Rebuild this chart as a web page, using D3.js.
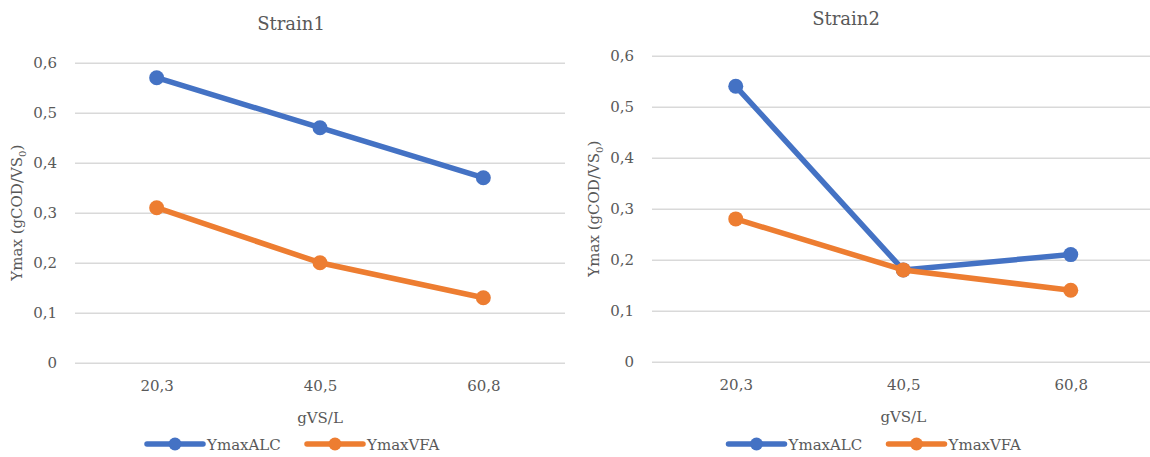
<!DOCTYPE html>
<html>
<head>
<meta charset="utf-8">
<script src="https://cdn.jsdelivr.net/npm/d3@7"></script>
<style>
  html, body { margin: 0; padding: 0; background: #fff; }
  svg { display: block; }
  text { font-family: "DejaVu Serif", "Liberation Serif", serif; fill: #595959; }
</style>
</head>
<body>
<svg id="chart" width="1150" height="457"></svg>
<script>
// Loading (gVS/L) on the x axis
const categories = ["20,3", "40,5", "60,8"];
const yTicks = [0, 0.1, 0.2, 0.3, 0.4, 0.5, 0.6];
const seriesNames = ["YmaxALC", "YmaxVFA"];
const seriesColors = ["#4472C4", "#ED7D31"];

// Strain 1 yields
const strain1ALC = [0.57, 0.47, 0.37];
const strain1VFA = [0.31, 0.20, 0.13];
// Strain 2 yields
const strain2ALC = [0.54, 0.18, 0.21];
const strain2VFA = [0.28, 0.18, 0.14];

const panels = [
  { title: "Strain1", series: [strain1ALC, strain1VFA],
    plot: { x0: 75, x1: 565, yTop: 62.7, yBot: 362.7 },
    titleX: 291, titleY: 30, yTitleX: 22, legendX: 147 },
  { title: "Strain2", series: [strain2ALC, strain2VFA],
    plot: { x0: 652, x1: 1154.5, yTop: 55.7, yBot: 361.7 },
    titleX: 846, titleY: 25, yTitleX: 599, legendX: 728.5 }
];

const svg = d3.select("#chart");
const fmt = d => d === 0 ? "0" : d3.format(".1f")(d).replace(".", ",");

panels.forEach(p => {
  const g = svg.append("g");
  const x = d3.scalePoint().domain(categories).range([p.plot.x0, p.plot.x1]).padding(0.5);
  const y = d3.scaleLinear().domain([0, 0.6]).range([p.plot.yBot, p.plot.yTop]);

  // gridlines + y tick labels
  const yAxis = d3.axisLeft(y).tickValues(yTicks).tickFormat(fmt)
    .tickSize(-(p.plot.x1 - p.plot.x0)).tickPadding(18);
  const ya = g.append("g").attr("transform", `translate(${p.plot.x0},0)`).call(yAxis);
  ya.select(".domain").remove();
  ya.selectAll(".tick line").attr("stroke", "#D9D9D9").attr("stroke-width", 1.5);
  ya.selectAll(".tick text").style("font-size", "15px").attr("fill", "#595959");

  // x tick labels
  const xAxis = d3.axisBottom(x).tickSize(0).tickPadding(18);
  const xa = g.append("g").attr("transform", `translate(0,${p.plot.yBot})`).call(xAxis);
  xa.select(".domain").remove();
  xa.selectAll(".tick text").style("font-size", "15px").attr("fill", "#595959");

  // title
  g.append("text").attr("x", p.titleX).attr("y", p.titleY)
    .attr("text-anchor", "middle").style("font-size", "18px").text(p.title);

  // axis titles
  g.append("text").attr("x", (p.plot.x0 + p.plot.x1) / 2).attr("y", p.plot.yBot + 60)
    .attr("text-anchor", "middle").style("font-size", "15px").text("gVS/L");
  const yt = g.append("text")
    .attr("transform", `translate(${p.yTitleX},${(p.plot.yTop + p.plot.yBot) / 2}) rotate(-90)`)
    .attr("text-anchor", "middle").style("font-size", "15px");
  yt.append("tspan").text("Ymax (gCOD/VS");
  yt.append("tspan").attr("dy", 4).style("font-size", "10px").text("0");
  yt.append("tspan").attr("dy", -4).text(")");

  // series lines + markers
  const line = d3.line().x((d, i) => x(categories[i])).y(d => y(d));
  p.series.forEach((vals, si) => {
    g.append("path").datum(vals).attr("d", line)
      .attr("fill", "none").attr("stroke", seriesColors[si])
      .attr("stroke-width", 5.5).attr("stroke-linejoin", "round").attr("stroke-linecap", "round");
    g.selectAll(null).data(vals).enter().append("circle")
      .attr("cx", (d, i) => x(categories[i])).attr("cy", d => y(d))
      .attr("r", 7.5).attr("fill", seriesColors[si]);
  });

  // legend
  const ly = 444;
  const offsets = [0, 160];
  seriesNames.forEach((name, si) => {
    const lx = p.legendX + offsets[si];
    g.append("line").attr("x1", lx).attr("x2", lx + 56).attr("y1", ly).attr("y2", ly)
      .attr("stroke", seriesColors[si]).attr("stroke-width", 5.5).attr("stroke-linecap", "round");
    g.append("circle").attr("cx", lx + 28).attr("cy", ly).attr("r", 6.5).attr("fill", seriesColors[si]);
    g.append("text").attr("x", lx + 60).attr("y", ly + 5.5).style("font-size", "15px").text(name);
  });
});
</script>
</body>
</html>
